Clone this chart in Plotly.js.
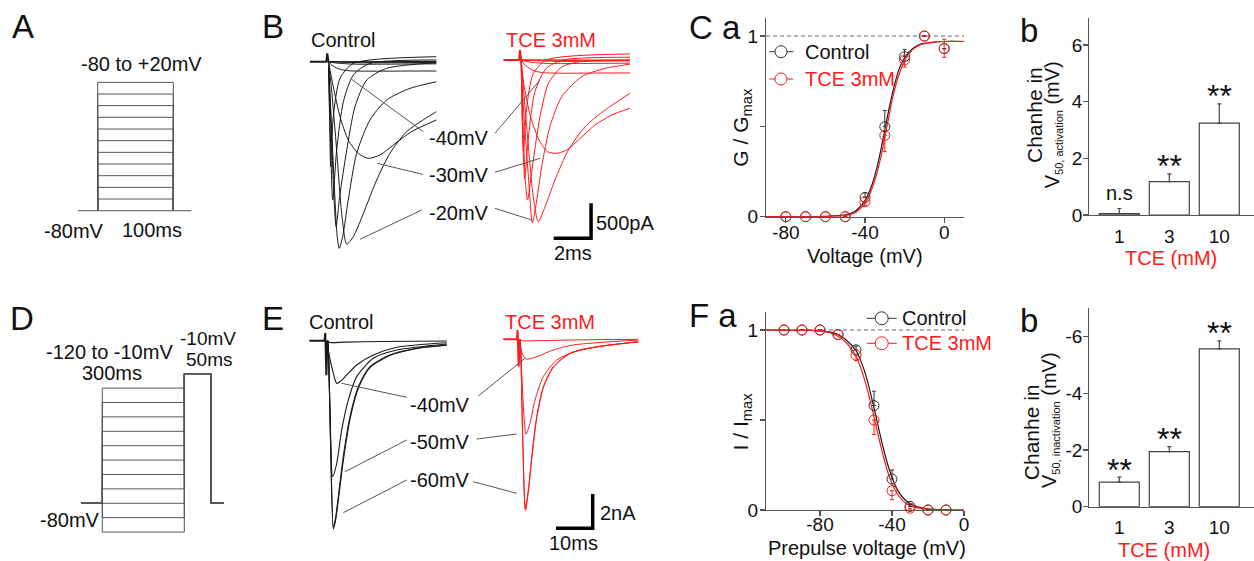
<!DOCTYPE html>
<html><head><meta charset="utf-8">
<script src="https://cdn.plot.ly/plotly-3.0.1.min.js"></script>
<style>html,body{margin:0;padding:0;background:#fff}#plot{width:1254px;height:561px}</style>
</head><body><div id="plot"></div>
<script>
// ================= DATA =================
// Panel A protocol (schematic, mV / ms)
const A_hold = -80;
const A_steps = [-70,-60,-50,-40,-30,-20,-10,0,10,20,30];
const A_time = [-26, 0, 100, 124];
// Panel D protocol (schematic)
const D_hold = -80;
const D_pre = [0,-10,-20,-30,-40,-50,-60,-70,-80,-90,-100];
const D_test = 10;
const D_time = [-78, 0, 300, 398, 445];

// Panel B: currents (t ms, I pA) Control
const Bc_art_t = [-0.93,-0.05,0,0.06]; const Bc_art_I = [0,0,120,0];
const Bc_t_m80 = [0.06,2,5.83]; const Bc_I_m80 = [0,0,5];
const Bc_t_m70 = [0.06,2,5.83]; const Bc_I_m70 = [0,-5,-5];
const Bc_t_m60 = [0.06,2,5.83]; const Bc_I_m60 = [0,-15,-10];
const Bc_t_m50 = [0.06,0.5,1.5,3,5.83]; const Bc_I_m50 = [0,-20,-35,-35,-30];
const Bc_t_m40 = [0.06,0.3,0.7,1.2,2,3,4.5,5.83]; const Bc_I_m40 = [0,-60,-110,-130,-135,-135,-133,-133];
const Bc_t_m30 = [0.06,0.32,0.68,1.12,1.66,2.19,2.82,3.53,4.5,5.83]; const Bc_I_m30 = [0,-357,-786,-1119,-1310,-1381,-1333,-1190,-1000,-833];
const Bc_t_m20 = [0.06,0.23,0.5,0.77,1.04,1.39,1.93,2.64,3.35,4.24,5.83]; const Bc_I_m20 = [0,-404,-1262,-2166,-2605,-2501,-2166,-1690,-1309,-1000,-714];
const Bc_t_m10 = [0.06,0.18,0.36,0.53,0.64,0.82,1.12,1.57,2.28,3.17,4.42,5.83]; const Bc_I_m10 = [0,-643,-1690,-2501,-2667,-2501,-1976,-1309,-833,-547,-381,-286];
const Bc_t_0 = [0.06,0.2,0.35,0.47,0.66,1.04,1.48,2.11,3.17,5.83]; const Bc_I_0 = [0,-900,-1900,-2358,-1929,-1262,-643,-262,-95,-14];
const Bc_t_p10 = [0.06,0.15,0.29,0.5,0.86,1.39,2.28,5.83]; const Bc_I_p10 = [0,-900,-1976,-1262,-571,-190,-24,24];
const Bc_t_p20 = [0.06,0.12,0.18,0.32,0.68,1.39,5.83]; const Bc_I_p20 = [0,-800,-1500,-786,-238,-24,71];
// Panel B: TCE 3mM
const Br_art_t = [-0.89,-0.05,0,0.06]; const Br_art_I = [0,0,143,0];
const Br_t_m80 = [0.06,2,5.88]; const Br_I_m80 = [0,0,-10];
const Br_t_m70 = [0.06,2,5.88]; const Br_I_m70 = [0,-5,0];
const Br_t_m60 = [0.06,2,5.88]; const Br_I_m60 = [0,-20,-10];
const Br_t_m50 = [0.06,0.5,1.5,3,5.88]; const Br_I_m50 = [0,-30,-50,-50,-45];
const Br_t_m40 = [0.06,0.3,0.7,1.2,2,3,4.5,5.88]; const Br_I_m40 = [0,-80,-150,-180,-188,-188,-186,-185];
const Br_t_m30 = [0.06,0.2,0.56,1.02,1.47,1.96,2.5,3.12,4.01,4.9,5.88]; const Br_I_m30 = [0,-333,-810,-1143,-1310,-1333,-1286,-1143,-929,-786,-690];
const Br_t_m20 = [0.06,0.18,0.45,0.71,0.98,1.34,1.87,2.59,3.48,4.55,5.88]; const Br_I_m20 = [0,-405,-1238,-1952,-2310,-2096,-1714,-1286,-952,-714,-476];
const Br_t_m10 = [0.06,0.18,0.45,0.66,0.84,1.16,1.6,2.23,3.3,4.55,5.88]; const Br_I_m10 = [0,-667,-1667,-2325,-2096,-1524,-952,-524,-238,-119,-60];
const Br_t_0 = [0.06,0.15,0.28,0.4,0.71,1.07,1.52,2.23,3.3,5.88]; const Br_I_0 = [0,-800,-1700,-2000,-1429,-810,-333,-100,-20,0];
const Br_t_p10 = [0.06,0.12,0.25,0.45,0.8,1.4,2.3,5.88]; const Br_I_p10 = [0,-800,-1700,-1100,-450,-120,0,40];
const Br_t_p20 = [0.06,0.1,0.18,0.35,0.7,1.4,5.88]; const Br_I_p20 = [0,-600,-1300,-700,-200,0,86];
const B_scale_t = 2, B_scale_I = 500, B_scale_corner = [3.8, -2547];

// Panel E: currents (t ms, I nA) Control
const Ec_art_t = [-4.55,-0.4,-0.2,0.1,0.4]; const Ec_art_I = [0,0,0.45,-2.0,0];
const Ec_t_flat = [0.4,1,5,15,32.9]; const Ec_I_flat = [0,-0.1,-0.08,-0.05,-0.02];
const Ec_t_m40 = [0.4,0.63,2.0,2.92,4.0,5.64,8.37,12.9,19.3,32.9]; const Ec_I_m40 = [0,-0.54,-1.9,-2.48,-2.35,-1.99,-1.41,-0.83,-0.38,-0.12];
const Ec_t_m50 = [0.4,0.6,1.09,1.83,2.92,4.28,6.08,8.37,12.9,19.3,32.9]; const Ec_I_m50 = [0,-0.3,-4.03,-7.91,-7.13,-5.19,-3.45,-2.09,-1.02,-0.54,-0.19];
const Ec_t_m60 = [0.4,0.6,1.23,1.99,2.6,3.35,4.71,6.54,8.8,12.0,17.4,24.7,32.9]; const Ec_I_m60 = [0,-0.3,-5.77,-10.85,-10.3,-9.07,-6.74,-4.42,-2.67,-1.51,-0.83,-0.44,-0.25];
const Ec_t_m70 = [0.4,0.6,1.25,2.02,2.65,3.4,4.8,6.6,8.9,12.1,17.5,24.8,32.9]; const Ec_I_m70 = [0,-0.3,-5.9,-10.95,-10.4,-9.2,-6.85,-4.5,-2.72,-1.54,-0.85,-0.45,-0.26];
// Panel E: TCE 3mM
const Er_art_t = [-4.09,-0.4,-0.2,0.1,0.4]; const Er_art_I = [0,0,0.54,-1.59,0];
const Er_t_flat = [0.4,1,5,15,32.7]; const Er_I_flat = [0,-0.08,-0.08,-0.04,0];
const Er_t_m40 = [0.4,0.74,1.5,2.29,3.3,5.01,9.54,15.0,32.7]; const Er_I_m40 = [0,-0.62,-1.0,-1.16,-1.12,-1.01,-0.62,-0.33,-0.04];
const Er_t_m50 = [0.4,0.6,1.28,2.10,3.19,4.56,6.81,10.5,16.8,32.7]; const Er_I_m50 = [0,-0.33,-3.53,-5.51,-4.88,-3.53,-2.17,-1.2,-0.62,-0.14];
const Er_t_m60 = [0.4,0.6,1.14,1.91,2.72,3.65,5.01,6.81,9.54,14.1,21.4,32.7]; const Er_I_m60 = [0,-0.33,-5.27,-9.83,-8.76,-6.83,-4.5,-2.76,-1.59,-0.81,-0.43,-0.14];
const Er_t_m70 = [0.4,0.6,1.16,1.95,2.76,3.7,5.05,6.85,9.6,14.2,21.5,32.7]; const Er_I_m70 = [0,-0.33,-5.4,-9.95,-8.85,-6.9,-4.55,-2.8,-1.61,-0.82,-0.44,-0.15];
const E_scale_t = 10, E_scale_I = 2, E_scale_corner = [20.27, -10.99];

// Panel Ca: activation
const Ca_V = [-80,-70,-60,-50,-40,-30,-20,-10,0];
const Ca_ctrl = [0,0,0,0,0.107,0.498,0.886,1.0,0.93];
const Ca_ctrl_errUp = [0,0,0,0,0.025,0.09,0.04,0,0];
const Ca_tce = [0,0,0,0,0.083,0.45,0.868,1.0,0.932];
const Ca_tce_errUp = [0,0,0,0,0,0,0,0,0.05];
const Ca_tce_errDn = [0,0,0,0,0.02,0.09,0.04,0,0.05];
const Ca_fit_V = [-90,-60,-50,-45,-40,-37,-34,-32,-30,-28,-26,-23,-20,-16,-12,-6,0,10];
const Ca_fit_ctrl = [0,0.002,0.01,0.03,0.09,0.16,0.27,0.37,0.48,0.59,0.69,0.81,0.88,0.93,0.955,0.965,0.97,0.97];
const Ca_fit_tce = [0,0.001,0.007,0.022,0.075,0.14,0.24,0.33,0.44,0.55,0.66,0.78,0.865,0.925,0.952,0.965,0.97,0.97];

// Panel Fa: inactivation
const Fa_V = [-100,-90,-80,-70,-60,-50,-40,-30,-20,-10];
const Fa_ctrl = [1,1,1,0.975,0.89,0.58,0.172,0.02,0,0];
const Fa_ctrl_errUp = [0,0,0,0,0.02,0.08,0.05,0.01,0,0];
const Fa_tce = [1,1,1,0.975,0.86,0.5,0.107,0.01,0,0];
const Fa_tce_errDn = [0,0,0,0,0.03,0.08,0.05,0.01,0,0];
const Fa_fit_V = [-110,-85,-80,-75,-70,-65,-60,-57,-54,-51,-48,-45,-42,-39,-36,-32,-28,-20,-10,0];
const Fa_fit_ctrl = [1,0.998,0.995,0.99,0.975,0.94,0.885,0.82,0.73,0.61,0.48,0.35,0.24,0.155,0.095,0.05,0.025,0.006,0.001,0];
const Fa_fit_tce = [1,0.998,0.994,0.986,0.965,0.925,0.855,0.78,0.68,0.56,0.43,0.305,0.2,0.125,0.075,0.035,0.017,0.004,0.001,0];

// Panels Cb / Fb: bars
const TCE_conc = ['1','3','10'];
const Cb_shift = [0.05, 1.18, 3.24];
const Cb_err = [0.18, 0.27, 0.68];
const Cb_sig = ['n.s','**','**'];
const Fb_shift = [-0.87, -1.94, -5.57];
const Fb_err = [0.17, 0.18, 0.28];
const Fb_sig = ['**','**','**'];

// ================= LAYOUT HELPERS =================
const W = 1254, H = 561;
const FONT = '"Liberation Sans", Arial, Helvetica, sans-serif';
const RED = '#ff1a1a', BLK = '#1a1a1a', AXC = '#555';
const px = x => x / W, py = y => 1 - y / H;
const dX = (a, b) => [px(a), px(b)];
const dY = (top, bot) => [py(bot), py(top)];
const barPos = TCE_conc.map((_, i) => i);

const traces = [];
function line(x, y, xa, ya, color, width, extra) {
  traces.push(Object.assign({type:'scatter', mode:'lines', x, y, xaxis:xa, yaxis:ya,
    line:{color, width, shape:'linear'}, hoverinfo:'skip', showlegend:false, cliponaxis:false}, extra||{}));
}
function sweep(t, I, xa, ya, color, width) {
  line(t, I, xa, ya, color, width||1.1, {line:{color, width:width||1.1, shape:'spline', smoothing:0.7}});
}

// ---- A protocol
line([A_time[0], A_time[3]], [A_hold, A_hold], 'x', 'y', '#555', 1);
A_steps.forEach(v => line([A_time[1],A_time[1],A_time[2],A_time[2]], [A_hold,v,v,A_hold], 'x', 'y', '#555', 1));
// ---- D protocol
D_pre.forEach(v => line([D_time[0],D_time[1],D_time[1],D_time[2],D_time[2],D_time[3],D_time[3],D_time[4]],
  [D_hold,D_hold,v,v,D_test,D_test,D_hold,D_hold], 'x6', 'y6', '#555', 1));

// ---- B control
line(Bc_art_t, Bc_art_I, 'x2', 'y2', BLK, 2);
[[Bc_t_m80,Bc_I_m80],[Bc_t_m70,Bc_I_m70],[Bc_t_m60,Bc_I_m60],[Bc_t_m50,Bc_I_m50],[Bc_t_m40,Bc_I_m40],
 [Bc_t_m30,Bc_I_m30],[Bc_t_m20,Bc_I_m20],[Bc_t_m10,Bc_I_m10],[Bc_t_0,Bc_I_0],[Bc_t_p10,Bc_I_p10],[Bc_t_p20,Bc_I_p20]]
 .forEach(s => sweep(s[0], s[1], 'x2', 'y2', BLK, 1));
// ---- B TCE
line(Br_art_t, Br_art_I, 'x3', 'y3', RED, 2);
[[Br_t_m80,Br_I_m80],[Br_t_m70,Br_I_m70],[Br_t_m60,Br_I_m60],[Br_t_m50,Br_I_m50],[Br_t_m40,Br_I_m40],
 [Br_t_m30,Br_I_m30],[Br_t_m20,Br_I_m20],[Br_t_m10,Br_I_m10],[Br_t_0,Br_I_0],[Br_t_p10,Br_I_p10],[Br_t_p20,Br_I_p20]]
 .forEach(s => sweep(s[0], s[1], 'x3', 'y3', RED, 1));
line([B_scale_corner[0]-B_scale_t, B_scale_corner[0], B_scale_corner[0]],
     [B_scale_corner[1], B_scale_corner[1], B_scale_corner[1]+B_scale_I], 'x3', 'y3', '#000', 3.5);

// ---- E control
line(Ec_art_t, Ec_art_I, 'x7', 'y7', BLK, 2);
[[Ec_t_flat,Ec_I_flat],[Ec_t_m40,Ec_I_m40],[Ec_t_m50,Ec_I_m50],[Ec_t_m60,Ec_I_m60],[Ec_t_m70,Ec_I_m70]]
 .forEach(s => sweep(s[0], s[1], 'x7', 'y7', BLK, 1.1));
// ---- E TCE
line(Er_art_t, Er_art_I, 'x8', 'y8', RED, 2);
[[Er_t_flat,Er_I_flat],[Er_t_m40,Er_I_m40],[Er_t_m50,Er_I_m50],[Er_t_m60,Er_I_m60],[Er_t_m70,Er_I_m70]]
 .forEach(s => sweep(s[0], s[1], 'x8', 'y8', RED, 1));
line([E_scale_corner[0]-E_scale_t, E_scale_corner[0], E_scale_corner[0]],
     [E_scale_corner[1], E_scale_corner[1], E_scale_corner[1]+E_scale_I], 'x8', 'y8', '#000', 3.5);

// ---- Ca
line([-90, 10], [1, 1], 'x4', 'y4', '#666', 1, {line:{color:'#666', width:1, dash:'4px,3px'}});
line(Ca_fit_V, Ca_fit_ctrl, 'x4', 'y4', BLK, 1.2, {line:{color:BLK, width:1.2, shape:'spline', smoothing:0.8}});
line(Ca_fit_V, Ca_fit_tce, 'x4', 'y4', RED, 1.2, {line:{color:RED, width:1.2, shape:'spline', smoothing:0.8}});
traces.push({type:'scatter', mode:'markers', x:Ca_V, y:Ca_ctrl, xaxis:'x4', yaxis:'y4', cliponaxis:false, hoverinfo:'skip', showlegend:false,
  marker:{symbol:'circle-open', size:10, color:'#333', line:{width:1}},
  error_y:{type:'data', symmetric:false, array:Ca_ctrl_errUp, arrayminus:Ca_V.map(()=>0), color:'#333', thickness:1, width:2}});
traces.push({type:'scatter', mode:'markers', x:Ca_V, y:Ca_tce, xaxis:'x4', yaxis:'y4', cliponaxis:false, hoverinfo:'skip', showlegend:false,
  marker:{symbol:'circle-open', size:10, color:RED, line:{width:1}},
  error_y:{type:'data', symmetric:false, array:Ca_tce_errUp, arrayminus:Ca_tce_errDn, color:RED, thickness:1, width:2}});

// ---- Fa
line([-110, 0], [1, 1], 'x9', 'y9', '#666', 1, {line:{color:'#666', width:1, dash:'4px,3px'}});
line(Fa_fit_V, Fa_fit_ctrl, 'x9', 'y9', BLK, 1.2, {line:{color:BLK, width:1.2, shape:'spline', smoothing:0.8}});
line(Fa_fit_V, Fa_fit_tce, 'x9', 'y9', RED, 1.2, {line:{color:RED, width:1.2, shape:'spline', smoothing:0.8}});
traces.push({type:'scatter', mode:'markers', x:Fa_V, y:Fa_ctrl, xaxis:'x9', yaxis:'y9', cliponaxis:false, hoverinfo:'skip', showlegend:false,
  marker:{symbol:'circle-open', size:10, color:'#333', line:{width:1}},
  error_y:{type:'data', symmetric:false, array:Fa_ctrl_errUp, arrayminus:Fa_V.map(()=>0), color:'#333', thickness:1, width:2}});
traces.push({type:'scatter', mode:'markers', x:Fa_V, y:Fa_tce, xaxis:'x9', yaxis:'y9', cliponaxis:false, hoverinfo:'skip', showlegend:false,
  marker:{symbol:'circle-open', size:10, color:RED, line:{width:1}},
  error_y:{type:'data', symmetric:false, array:Fa_V.map(()=>0), arrayminus:Fa_tce_errDn, color:RED, thickness:1, width:2}});

// ---- Bars
traces.push({type:'bar', x:barPos, y:Cb_shift, xaxis:'x5', yaxis:'y5', width:0.8, hoverinfo:'skip', showlegend:false,
  marker:{color:'#fff', line:{color:'#444', width:1.2}},
  error_y:{type:'data', symmetric:false, array:Cb_err, arrayminus:[0,0,0], color:'#444', thickness:1.2, width:2}});
traces.push({type:'bar', x:barPos, y:Fb_shift, xaxis:'x10', yaxis:'y10', width:0.8, hoverinfo:'skip', showlegend:false,
  marker:{color:'#fff', line:{color:'#444', width:1.2}},
  error_y:{type:'data', symmetric:false, array:[0,0,0], arrayminus:Fb_err, color:'#444', thickness:1.2, width:2}});

// ================= AXES =================
const hidden = (domain, range, anchor) => ({visible:false, domain, range, anchor, fixedrange:true});
const axBase = {showline:true, linecolor:AXC, linewidth:1.2, ticks:'outside', ticklen:5, tickwidth:1.2, tickcolor:AXC,
  showgrid:false, zeroline:false, tickfont:{family:FONT, size:19, color:'#111'}, fixedrange:true};
const ax = o => Object.assign({}, axBase, o);

const layout = {
  width:W, height:H, margin:{l:0,r:0,t:0,b:0,pad:0}, paper_bgcolor:'#fff', plot_bgcolor:'rgba(0,0,0,0)',
  showlegend:false, font:{family:FONT, size:19, color:'#111'}, bargap:0,
  xaxis: hidden(dX(70,200), [-36.64,135.32], 'y'),
  yaxis: hidden(dY(75,215), [-83.68,36.28], 'x'),
  xaxis2: hidden(dX(300,445), [-1.460,6.294], 'y2'),
  yaxis2: hidden(dY(30,260), [-2832.9,452.9], 'x2'),
  xaxis3: hidden(dX(495,645), [-1.337,6.684], 'y3'),
  yaxis3: hidden(dY(30,260), [-2857.1,428.6], 'x3'),
  xaxis4: ax({domain:dX(766,964), range:[-90,10], anchor:'y4', tickvals:[-80,-40,0], ticktext:['-80','-40','0'], ticklabelstandoff:-7}),
  yaxis4: ax({domain:dY(18,216.7), range:[0,1.1], anchor:'x4', tickvals:[0,0.5,1], ticktext:['0','','1'], ticklabelstandoff:-2}),
  xaxis5: ax({domain:dX(1089.3,1254), range:[-0.6,2.694], anchor:'y5', tickvals:barPos, ticktext:TCE_conc, ticks:'', ticklabelstandoff:4}),
  yaxis5: ax({domain:dY(18.3,215), range:[0,6.94], anchor:'x5', tickvals:[0,2,4,6], ticktext:['0','2','4','6'], ticklabelstandoff:-3}),
  xaxis6: hidden(dX(70,240), [-118.2,503.8], 'y6'),
  yaxis6: hidden(dY(365,540), [-105.5,16.04], 'x6'),
  xaxis7: hidden(dX(300,460), [-7.084,36.512], 'y7'),
  yaxis7: hidden(dY(318,545), [-11.878,1.320], 'x7'),
  xaxis8: hidden(dX(495,645), [-6.349,34.523], 'y8'),
  yaxis8: hidden(dY(318,545), [-11.959,1.238], 'x8'),
  xaxis9: ax({domain:dX(766,964), range:[-110,0], anchor:'y9', tickvals:[-80,-40,0], ticktext:['-80','-40','0'], ticklabelstandoff:-8}),
  yaxis9: ax({domain:dY(312,510), range:[0,1.1], anchor:'x9', tickvals:[0,0.5,1], ticktext:['0','','1'], ticklabelstandoff:-2}),
  xaxis10: ax({domain:dX(1089.3,1254), range:[-0.6,2.694], anchor:'y10', tickvals:barPos, ticktext:TCE_conc, ticks:'', ticklabelstandoff:3}),
  yaxis10: ax({domain:dY(308.3,506.7), range:[0,-7], anchor:'x10', tickvals:[0,-2,-4,-6], ticktext:['0','-2','-4','-6'], ticklabelstandoff:-3}),
};

// ================= ANNOTATIONS & DECORATION =================
const ann = [];
function T(text, x, y, o) {
  o = o || {};
  ann.push({text, x:px(x), y:py(y), xref:'paper', yref:'paper', showarrow:false,
    xanchor:o.xa||'center', yanchor:'middle', textangle:o.rot||0,
    font:{family:FONT, size:o.size||20, color:o.color||'#111'}});
}
// panel letters
T('A', 22.7, 26, {size:33}); T('B', 273.3, 26, {size:33});
T('C a', 687, 27.5, {size:33, xa:'left'}); T('b', 1029.2, 30.3, {size:33});
T('D', 22.3, 318.3, {size:33}); T('E', 273, 318.3, {size:33});
T('F a', 687, 315, {size:33, xa:'left'}); T('b', 1029.2, 320.3, {size:33});
// A / D protocol text
T('-80 to +20mV', 141.3, 64.3); T('-80mV', 74.2, 230.5); T('100ms', 151.8, 230);
T('-120 to -10mV', 109.2, 351.7); T('300ms', 111.7, 372.7);
T('-10mV', 208.3, 338.8, {size:19}); T('50ms', 209.2, 359.6, {size:19}); T('-80mV', 70, 520);
// B
T('Control', 343.3, 40.3); T('TCE 3mM', 551, 40.3, {color:RED});
T('-40mV', 459, 137.8); T('-30mV', 459, 175.5); T('-20mV', 459, 212.8);
T('500pA', 625, 222.5); T('2ms', 573.3, 253.3);
// E
T('Control', 340.8, 321.7); T('TCE 3mM', 550.3, 321.7, {color:RED});
T('-40mV', 440, 405); T('-50mV', 440, 441.7); T('-60mV', 440, 480);
T('2nA', 617.5, 512.5); T('10ms', 573.3, 543.3);
// Ca
T('Voltage (mV)', 865, 256);
T('G / G<sub>max</sub>', 741.7, 127, {rot:-90, size:21});
T('Control', 803.3, 51.7, {xa:'left'}); T('TCE 3mM', 803.3, 79, {xa:'left', color:RED});
// Cb
T('TCE (mM)', 1170.8, 258.3, {color:RED});
T('Chanhe in', 1035, 115, {rot:-90, size:21});
T('V<sub><span style="font-size:11px">50, activation</span></sub> (mV)', 1053.3, 125, {rot:-90, size:20});
// Fa
T('Prepulse voltage (mV)', 866.7, 547.5);
T('I / I<sub>max</sub>', 741.7, 421.7, {rot:-90, size:21});
T('Control', 900, 318.3, {xa:'left'}); T('TCE 3mM', 900, 343.3, {xa:'left', color:RED});
// Fb
T('TCE (mM)', 1164.2, 550, {color:RED});
T('Chanhe in', 1031.7, 432.5, {rot:-90, size:21});
T('V<sub><span style="font-size:11px">50, inactivation</span></sub> (mV)', 1050, 420, {rot:-90, size:20});
// significance marks in data coordinates
barPos.forEach(i => {
  const isNs = Cb_sig[i] === 'n.s';
  ann.push({text:Cb_sig[i], x:i, y:Cb_shift[i]+Cb_err[i], xref:'x5', yref:'y5', showarrow:false,
    xanchor:'center', yanchor:'middle', yshift: isNs ? 15 : 7.4,
    font:{family:FONT, size: isNs ? 20 : 32, color:'#111'}});
  ann.push({text:Fb_sig[i], x:i, y:Fb_shift[i]-Fb_err[i], xref:'x10', yref:'y10', showarrow:false,
    xanchor:'center', yanchor:'middle', yshift:7.4, font:{family:FONT, size:32, color:'#111'}});
});

const shapes = [];
function seg(x0,y0,x1,y1,color,width){ shapes.push({type:'line', xref:'paper', yref:'paper', x0:px(x0), y0:py(y0), x1:px(x1), y1:py(y1), line:{color:color||'#555', width:width||1}}); }
function circ(cx,cy,r,color){ shapes.push({type:'circle', xref:'paper', yref:'paper', x0:px(cx-r), x1:px(cx+r), y0:py(cy+r), y1:py(cy-r), line:{color, width:1}, fillcolor:'#fff'}); }
// B leaders
seg(423.3,131.7,351.7,79.3); seg(495,133.3,540,80);
seg(423,174.5,377.3,163.3); seg(495,172.3,540,158.3);
seg(421.7,210,360,239.3); seg(495,208.3,531.7,220);
// E leaders
seg(406.7,397.3,341.7,383.3); seg(478.3,396,525,358.3);
seg(406.7,440,345,471.7); seg(476.7,439,516.7,434);
seg(406.7,480,343.3,512.7); seg(473.3,481.7,516.7,493.3);
// legend glyphs
seg(769.3,51.7,793.3,51.7,'#333',1); circ(781,51.7,6,'#333');
seg(769.3,79,793.3,79,RED,1); circ(781,79,6,RED);
seg(866.7,318.3,896.7,318.3,'#333',1); circ(881.7,318.3,6.5,'#333');
seg(866.7,343.3,896.7,343.3,RED,1); circ(881.7,343.3,6.5,RED);

layout.annotations = ann;
layout.shapes = shapes;

Plotly.newPlot('plot', traces, layout, {staticPlot:true, displayModeBar:false});
</script>
</body></html>
